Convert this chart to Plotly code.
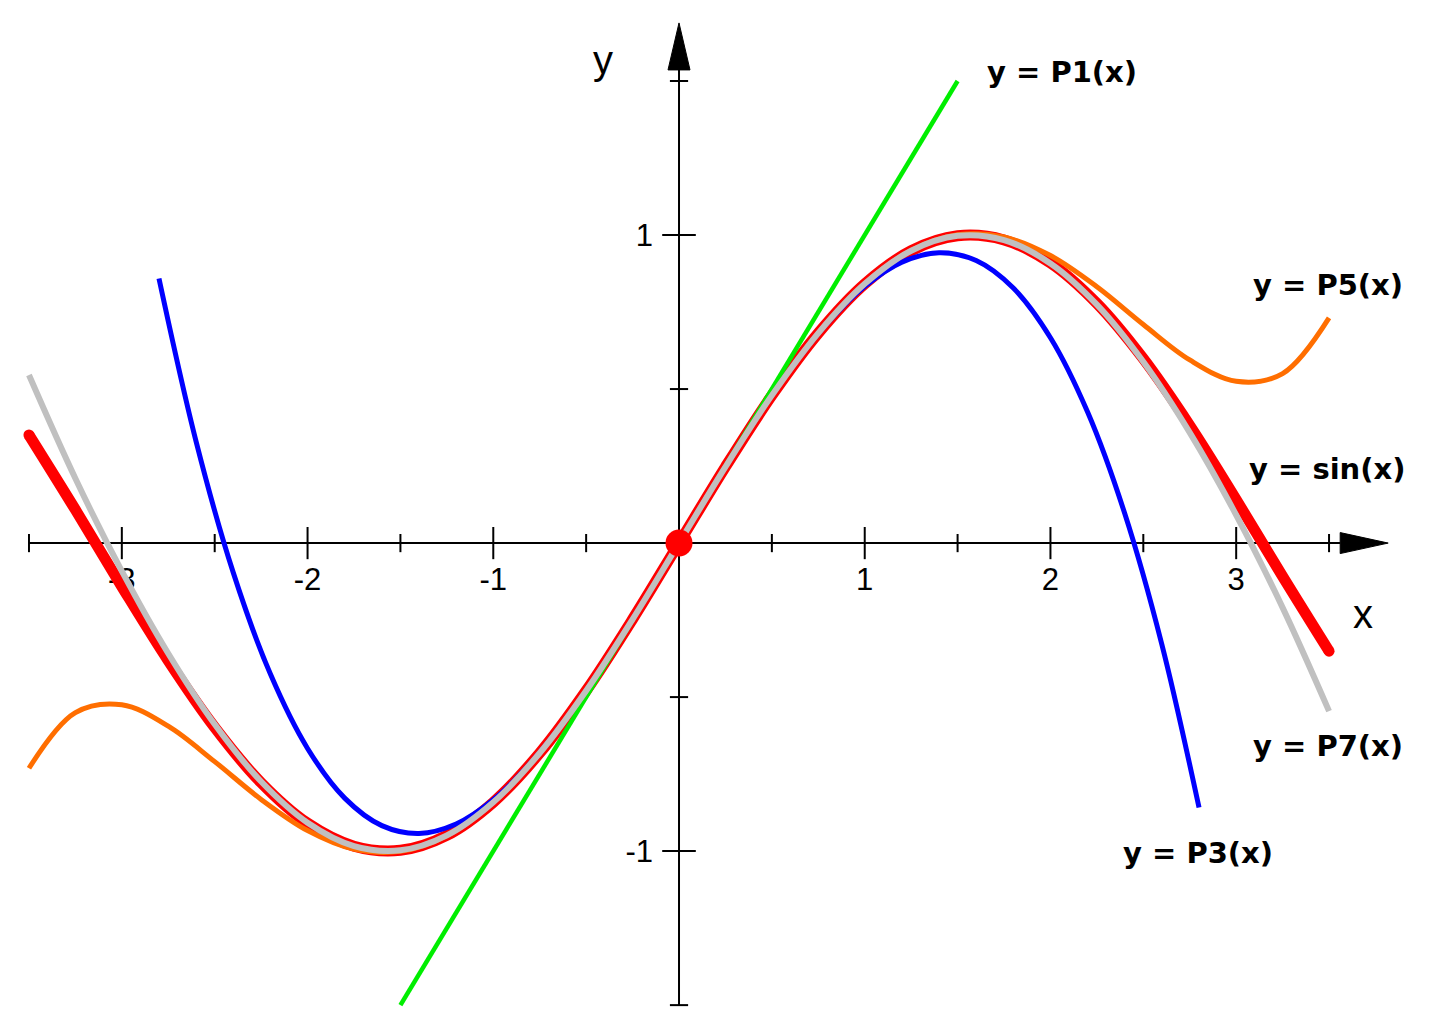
import plotly.graph_objects as go

# ---- data ----
x_main = [-3.5, -3.25, -3.0, -2.75, -2.5, -2.25, -2.0, -1.75, -1.5, -1.25, -1.0, -0.75, -0.5, -0.25, 0.0,
          0.25, 0.5, 0.75, 1.0, 1.25, 1.5, 1.75, 2.0, 2.25, 2.5, 2.75, 3.0, 3.25, 3.5]
sin_vals = [0.3508, 0.1082, -0.1411, -0.3817, -0.5985, -0.7781, -0.9093, -0.9840, -0.9975, -0.9490, -0.8415,
            -0.6816, -0.4794, -0.2474, 0.0, 0.2474, 0.4794, 0.6816, 0.8415, 0.9490, 0.9975, 0.9840, 0.9093,
            0.7781, 0.5985, 0.3817, 0.1411, -0.1082, -0.3508]
p7_vals = [0.5456, 0.2096, -0.0911, -0.3585, -0.5885, -0.7742, -0.9079, -0.9836, -0.9974, -0.9490, -0.8415,
           -0.6816, -0.4794, -0.2474, 0.0, 0.2474, 0.4794, 0.6816, 0.8415, 0.9490, 0.9974, 0.9836, 0.9079,
           0.7742, 0.5885, 0.3585, 0.0911, -0.2096, -0.5456]
p5_vals = [-0.7310, -0.5503, -0.5250, -0.5945, -0.7096, -0.8321, -0.9333, -0.9936, -1.0008, -0.9499, -0.8417,
           -0.6817, -0.4794, -0.2474, 0.0, 0.2474, 0.4794, 0.6817, 0.8417, 0.9499, 1.0008, 0.9936, 0.9333,
           0.8321, 0.7096, 0.5945, 0.5250, 0.5503, 0.7310]
x_p3 = [-2.8, -2.6, -2.4, -2.2, -2.0, -1.8, -1.6, -1.4, -1.2, -1.0, -0.8, -0.6, -0.4, -0.2, 0.0,
        0.2, 0.4, 0.6, 0.8, 1.0, 1.2, 1.4, 1.6, 1.8, 2.0, 2.2, 2.4, 2.6, 2.8]
p3_vals = [0.8587, 0.3293, -0.0960, -0.4253, -0.6667, -0.8280, -0.9173, -0.9427, -0.9120, -0.8333, -0.7147,
           -0.5640, -0.3893, -0.1987, 0.0, 0.1987, 0.3893, 0.5640, 0.7147, 0.8333, 0.9120, 0.9427, 0.9173,
           0.8280, 0.6667, 0.4253, 0.0960, -0.3293, -0.8587]
x_p1 = [-1.5, 1.5]
p1_vals = [-1.5, 1.5]

x_major_ticks = [-3, -2, -1, 1, 2, 3]
x_minor_ticks = [-3.5, -2.5, -1.5, -0.5, 0.5, 1.5, 2.5, 3.5]
x_tick_labels = ["-3", "-2", "-1", "1", "2", "3"]
y_major_ticks = [-1, 1]
y_minor_ticks = [-1.5, -0.5, 0.5, 1.5]
y_tick_labels = ["-1", "1"]

curve_labels = ["y = P1(x)", "y = P5(x)", "y = sin(x)", "y = P7(x)", "y = P3(x)"]

# ---- layout geometry ----
W, H = 1431, 1031
XR = [-3.656, 4.049]
YR = [-1.584, 1.763]
ppx = W / (XR[1] - XR[0])
ppy = H / (YR[1] - YR[0])

x_axis_start, x_axis_end = -3.5, 3.56
y_axis_start, y_axis_end = -1.5, 1.536
arrow_len_px, arrow_half_px = 48, 10.5

fig = go.Figure()

# axes lines
fig.add_trace(go.Scatter(x=[x_axis_start, x_axis_end], y=[0, 0], mode="lines",
                         line=dict(color="black", width=2), hoverinfo="skip"))
fig.add_trace(go.Scatter(x=[0, 0], y=[y_axis_start, y_axis_end], mode="lines",
                         line=dict(color="black", width=2), hoverinfo="skip"))
# arrow heads
ax_tip = x_axis_end + arrow_len_px / ppx
fig.add_trace(go.Scatter(x=[x_axis_end, ax_tip, x_axis_end, x_axis_end],
                         y=[arrow_half_px / ppy, 0, -arrow_half_px / ppy, arrow_half_px / ppy],
                         mode="lines", fill="toself", fillcolor="black",
                         line=dict(color="black", width=1), hoverinfo="skip"))
ay_tip = y_axis_end + (arrow_len_px - 1) / ppy
fig.add_trace(go.Scatter(x=[-(arrow_half_px + 0.5) / ppx, 0, (arrow_half_px + 0.5) / ppx, -(arrow_half_px + 0.5) / ppx],
                         y=[y_axis_end, ay_tip, y_axis_end, y_axis_end],
                         mode="lines", fill="toself", fillcolor="black",
                         line=dict(color="black", width=1), hoverinfo="skip"))
# ticks
fig.add_trace(go.Scatter(x=x_major_ticks, y=[0] * len(x_major_ticks), mode="markers",
                         marker=dict(symbol="line-ns", size=23, line=dict(color="black", width=2)), hoverinfo="skip"))
fig.add_trace(go.Scatter(x=x_minor_ticks, y=[0] * len(x_minor_ticks), mode="markers",
                         marker=dict(symbol="line-ns", size=13, line=dict(color="black", width=2)), hoverinfo="skip"))
fig.add_trace(go.Scatter(x=[0] * len(y_major_ticks), y=y_major_ticks, mode="markers",
                         marker=dict(symbol="line-ew", size=24, line=dict(color="black", width=2)), hoverinfo="skip"))
fig.add_trace(go.Scatter(x=[0] * len(y_minor_ticks), y=y_minor_ticks, mode="markers",
                         marker=dict(symbol="line-ew", size=13, line=dict(color="black", width=2)), hoverinfo="skip"))

# tick labels (under curves)
tick_font = dict(family="Liberation Sans, Arial", size=31, color="black")
fig.add_trace(go.Scatter(x=x_major_ticks, y=[-39 / ppy] * len(x_major_ticks), mode="text",
                         text=x_tick_labels, textfont=tick_font, textposition="middle center", hoverinfo="skip"))
fig.add_trace(go.Scatter(x=[-26 / ppx] * len(y_major_ticks), y=[v - 3 / ppy for v in y_major_ticks], mode="text",
                         text=y_tick_labels, textfont=tick_font, textposition="middle left", hoverinfo="skip"))

# curves
fig.add_trace(go.Scatter(x=x_main, y=sin_vals, mode="lines", line=dict(color="#ff0000", width=11, shape="spline"),
                         hoverinfo="skip"))
fig.add_trace(go.Scatter(x=[x_main[0], x_main[-1]], y=[sin_vals[0], sin_vals[-1]], mode="markers",
                         marker=dict(color="#ff0000", size=11), hoverinfo="skip"))
fig.add_trace(go.Scatter(x=x_p1, y=p1_vals, mode="lines", line=dict(color="#00ee00", width=4.5), hoverinfo="skip"))
fig.add_trace(go.Scatter(x=x_p3, y=p3_vals, mode="lines", line=dict(color="#0000ff", width=5, shape="spline"),
                         hoverinfo="skip"))
fig.add_trace(go.Scatter(x=x_main, y=p5_vals, mode="lines", line=dict(color="#ff6e00", width=5, shape="spline"),
                         hoverinfo="skip"))
fig.add_trace(go.Scatter(x=x_main, y=p7_vals, mode="lines", line=dict(color="#c0c0c0", width=6, shape="spline"),
                         hoverinfo="skip"))
fig.add_trace(go.Scatter(x=[0], y=[0], mode="markers", marker=dict(color="#ff0000", size=27), hoverinfo="skip"))

# curve labels
label_font = dict(family="DejaVu Sans", size=29, color="black")
label_pos = [(2.062, 1.529), (3.495, 0.838), (3.49, 0.24), (3.495, -0.659), (2.795, -1.006)]
for txt, (lx, ly) in zip(curve_labels, label_pos):
    fig.add_annotation(x=lx, y=ly, text="<b>" + txt + "</b>", showarrow=False, font=label_font,
                       xanchor="center", yanchor="middle")

axis_font = dict(family="Liberation Sans, Arial", size=40, color="black")
fig.add_annotation(x=-0.409, y=1.568, text="y", showarrow=False, font=axis_font, xanchor="center", yanchor="middle")
fig.add_annotation(x=3.683, y=-0.23, text="x", showarrow=False, font=axis_font, xanchor="center", yanchor="middle")

fig.update_layout(
    width=W, height=H, margin=dict(l=0, r=0, t=0, b=0),
    paper_bgcolor="white", plot_bgcolor="white", showlegend=False,
    xaxis=dict(range=XR, visible=False, fixedrange=True),
    yaxis=dict(range=YR, visible=False, fixedrange=True),
)

fig.write_html("out.html", config={"displayModeBar": False},
               post_script="document.body.style.margin='0';document.body.style.overflow='hidden';")
